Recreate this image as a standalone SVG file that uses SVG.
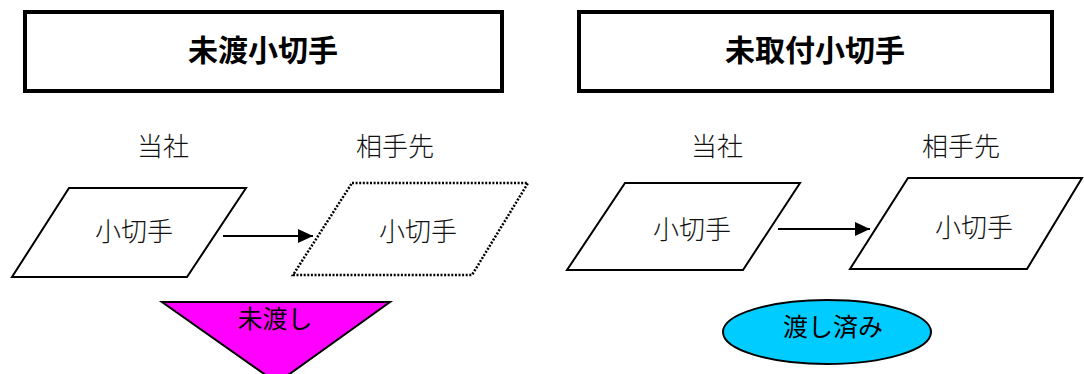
<svg xmlns="http://www.w3.org/2000/svg" width="1084" height="374" viewBox="0 0 1084 374">
<style>
.title{fill:#fff;stroke:#000;stroke-width:4}
.tt{font-family:"Noto Sans CJK JP","Noto Sans CJK SC",sans-serif;font-weight:bold;font-size:30px;text-anchor:middle}
.lbl{font-family:"Noto Sans CJK JP","Noto Sans CJK SC",sans-serif;font-weight:300;font-size:26px;text-anchor:middle;fill:#111}
.par{fill:#fff;stroke:#000;stroke-width:2}
.dot{fill:#fff;stroke:#000;stroke-width:2.5;stroke-dasharray:2 1.6}
.st{font-family:"Noto Sans CJK JP","Noto Sans CJK SC",sans-serif;font-size:25px;text-anchor:middle}
.conn{stroke:#000;stroke-width:2;fill:none}
</style>
<defs>
<marker id="ah" markerWidth="15" markerHeight="14" refX="15" refY="7" orient="auto" markerUnits="userSpaceOnUse">
<path d="M0,0 L15,7 L0,14 Z" fill="#000"/>
</marker>
</defs>
<g id="title1"><rect class="title" x="25" y="12" width="477" height="79"/><text class="tt" x="263" y="61">未渡小切手</text></g>
<g id="title2"><rect class="title" x="579" y="12" width="473" height="79"/><text class="tt" x="815" y="61">未取付小切手</text></g>
<g id="lab1"><text class="lbl" x="163" y="156">当社</text></g>
<g id="lab2"><text class="lbl" x="395" y="156">相手先</text></g>
<g id="lab3"><text class="lbl" x="717" y="156">当社</text></g>
<g id="lab4"><text class="lbl" x="961" y="156">相手先</text></g>
<g id="p1"><polygon class="par" points="69,188 246,188 187,277 12,277"/><text class="lbl" x="134" y="241">小切手</text></g>
<g id="p2"><polygon class="dot" points="352,183 528,183 472,275 293,275"/><text class="lbl" x="418" y="241">小切手</text></g>
<g id="p3"><polygon class="par" points="625,183 800,183 743,270 567,270"/><text class="lbl" x="692" y="239">小切手</text></g>
<g id="p4"><polygon class="par" points="908,178 1082,178 1027,269 850,269"/><text class="lbl" x="974" y="237">小切手</text></g>
<g id="tri"><polygon points="162,302 390,302 277,383" fill="#FF00FF" stroke="#000" stroke-width="2"/><text class="st" x="275" y="328">未渡し</text></g>
<g id="ell"><ellipse cx="827" cy="332" rx="104" ry="32" fill="#00CCFF" stroke="#000" stroke-width="2"/><text class="st" x="833" y="336">渡し済み</text></g>
<g id="connectors">
<line class="conn" x1="223" y1="236" x2="313" y2="236" marker-end="url(#ah)"/>
<line class="conn" x1="778" y1="229" x2="870" y2="229" marker-end="url(#ah)"/>
</g>
</svg>
